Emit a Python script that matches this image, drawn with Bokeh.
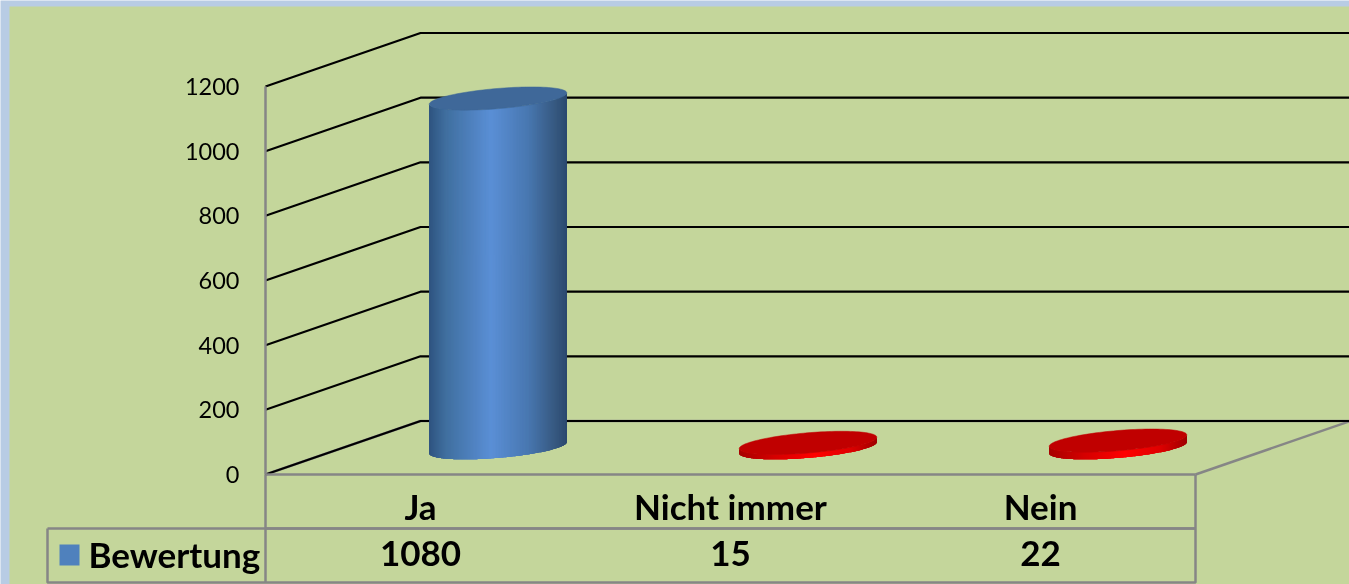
import math
from bokeh.embed import file_html
from bokeh.resources import INLINE
from bokeh.plotting import figure
from bokeh.models import Range1d, LinearAxis, FixedTicker
from bokeh.core.properties import value

categories = ["Ja", "Nicht immer", "Nein"]
series_name = "Bewertung"
bewertung = [1080, 15, 22]
y_ticks = [0, 200, 400, 600, 800, 1000, 1200]

# layout: pixels per category / per value unit, and the oblique depth vector
W, H = 1349, 584
X0, Y0 = 265, 474
PX_CAT = 310.0
PX_VAL = 388.0 / 1200.0
DX_PX, DY_PX = 155.0, 53.5
DX, DY = DX_PX / PX_CAT, DY_PX / PX_VAL
XMAX = (W - X0) / PX_CAT


def X(px):
    return (px - X0) / PX_CAT


def Y(py):
    return (Y0 - py) / PX_VAL


p = figure(width=W, height=H, output_backend="svg", toolbar_location=None,
           x_range=Range1d(X(0), X(W)), y_range=Range1d(Y(H), Y(0)),
           x_axis_type=None, y_axis_type=None, min_border=0,
           background_fill_color="#b8cce4", border_fill_color="#b8cce4",
           outline_line_color=None)
p.grid.visible = False
p.styles = {"position": "fixed", "left": "0", "top": "0"}

GREEN = "#c4d69b"
GREY = "#868686"
p.quad(left=[X(9)], right=[X(W)], bottom=[Y(H)], top=[Y(6)],
       fill_color=GREEN, line_color=None)

# walls
p.multi_line(xs=[[0, DX], [3, 3 + DX], [DX, XMAX]], ys=[[0, DY], [0, DY], [DY, DY]],
             line_color=GREY, line_width=2.5)
grid_x = [[0, DX, XMAX] for _ in y_ticks]
grid_y = [[v, v + DY, v + DY] for v in y_ticks]
p.multi_line(xs=grid_x, ys=grid_y, line_color="black", line_width=2.2)

# data table frame
row1, row2 = Y(528), Y(582)
left = X(47)
p.multi_line(xs=[[left, 3], [left, left, 3, 3], [0, 0]],
             ys=[[row1, row1], [row1, row2, row2, 0], [0, row2]],
             line_color=GREY, line_width=2.5)


def lerp_colour(stops, u):
    for (u0, c0), (u1, c1) in zip(stops, stops[1:]):
        if u <= u1:
            f = (u - u0) / (u1 - u0)
            rgb = [round(int(c0[i:i + 2], 16) * (1 - f) + int(c1[i:i + 2], 16) * f)
                   for i in (1, 3, 5)]
            return "#%02x%02x%02x" % tuple(rgb)
    return stops[-1][1]


BLUE_STOPS = [(0, "#2f5480"), (0.12, "#406f9f"), (0.45, "#5a8fd6"),
              (0.72, "#4877b0"), (0.92, "#36587f"), (1, "#2c4a70")]
RED_STOPS = [(0, "#a80000"), (0.25, "#d40000"), (0.55, "#ff0000"),
             (0.8, "#e00000"), (1, "#a00000")]
A = 60 / PX_CAT      # cylinder half width along the category axis
B = 0.217            # cylinder half depth, as a share of the floor depth
N = 140


def cylinder(i, v, stops, top_colour):
    cx = i + 0.5 + 0.5 * DX
    cy = 0.5 * DY
    bx = B * DX
    c = B * DY
    R = math.hypot(A, bx)
    t0 = math.atan2(bx, A)
    # strips are painted left to right, each reaching under the next one, so no seams show
    for k in range(N):
        phis = [math.pi + math.pi * j / N for j in range(k, min(k + 4, N) + 1)]
        xb = [cx + R * math.cos(f) for f in phis]
        yb = [cy + c * math.sin(f + t0) for f in phis]
        col = lerp_colour(stops, ((xb[0] + xb[1]) / 2 - cx + R) / (2 * R))
        p.patch(xb + xb[::-1], yb + [y + v for y in yb[::-1]],
                fill_color=col, line_color=None)
    ts = [2 * math.pi * k / 120 for k in range(121)]
    p.patch([cx + A * math.cos(t) + bx * math.sin(t) for t in ts],
            [cy + v + c * math.sin(t) for t in ts],
            fill_color=top_colour, line_color=top_colour, line_width=0.5)


for i, v in enumerate(bewertung):
    if i == 0:
        cylinder(i, v, BLUE_STOPS, "#3f6899")
    else:
        cylinder(i, v, RED_STOPS, "#c00000")

# axes
FONT = "Lato"
yax = LinearAxis(fixed_location=0, ticker=FixedTicker(ticks=y_ticks), bounds=(0, 1200))
yax.axis_line_color = GREY
yax.axis_line_width = 2.5
yax.major_tick_line_color = None
yax.minor_tick_line_color = None
yax.major_label_standoff = 20
yax.major_label_text_font = FONT
yax.major_label_text_font_size = "23.5px"
yax.major_label_text_color = "black"
p.add_layout(yax, "left")

positions = [i + 0.5 for i in range(len(categories))]


def table_axis(loc, labels, standoff):
    ax = LinearAxis(fixed_location=loc, ticker=FixedTicker(ticks=positions), bounds=(0, 3))
    ax.major_label_overrides = dict(zip(positions, labels))
    ax.axis_line_color = GREY
    ax.axis_line_width = 2.5
    ax.major_tick_line_color = None
    ax.minor_tick_line_color = None
    ax.major_label_standoff = standoff
    ax.major_label_text_font = FONT
    ax.major_label_text_font_style = "bold"
    ax.major_label_text_font_size = "35px"
    ax.major_label_text_color = "black"
    p.add_layout(ax, "below")


table_axis(0, categories, 4)
table_axis(row1, [str(v) for v in bewertung], 6)

# legend key in the data table
p.quad(left=[X(59)], right=[X(79)], bottom=[Y(565)], top=[Y(544)],
       fill_color="#4f81bd", line_color=None)
p.text(x=[X(88)], y=[Y(553)], text=[series_name], text_font=value(FONT),
       text_font_style="bold", text_font_size="35px", text_color="black",
       text_align="left", text_baseline="middle")

open("out.html", "w").write(file_html(p, INLINE))
